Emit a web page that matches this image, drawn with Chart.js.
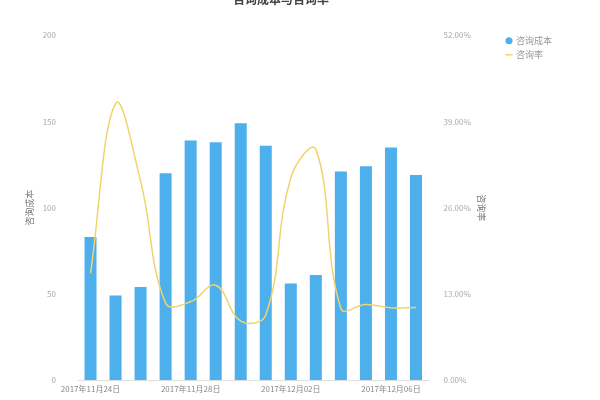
<!DOCTYPE html>
<html>
<head>
<meta charset="utf-8">
<script src="https://cdn.jsdelivr.net/npm/chart.js@4.4.1/dist/chart.umd.min.js"></script>
<style>
  html, body { margin: 0; padding: 0; background: #fff; }
  #wrap { width: 600px; height: 400px; position: relative; }
</style>
</head>
<body>
<div id="wrap"><canvas id="costChart"></canvas></div>
<script>
// categories and series
const dates = ['2017年11月24日', '2017年11月25日', '2017年11月26日', '2017年11月27日',
  '2017年11月28日', '2017年11月29日', '2017年11月30日', '2017年12月01日',
  '2017年12月02日', '2017年12月03日', '2017年12月04日', '2017年12月05日',
  '2017年12月06日', '2017年12月07日'];
const costValues = [83, 49, 54, 120, 139, 138, 149, 136, 56, 61, 121, 124, 135, 119];
const rateValues = [16.1, 41.7, 30, 11.6, 11.8, 14.3, 8.9, 9.8, 30.5, 34.8, 10.8, 11.4, 10.9, 10.95];
const costTicks = [0, 50, 100, 150, 200];
const rateTicks = [0, 13, 26, 39, 52];

const font = "'Noto Sans CJK SC', 'Noto Sans', sans-serif";

// keep a side axis at a fixed width, and stop its big tick padding from eating the bottom margin
function fixSide(width) {
  return axis => {
    axis.width = width;
    axis.paddingTop = 5;
    axis.paddingBottom = 5;
  };
}

const ctx = document.getElementById('costChart').getContext('2d');
const costChart = new Chart(ctx, {
  type: 'bar',
  data: {
    labels: dates,
    datasets: [{
      type: 'bar',
      label: '咨询成本',
      data: costValues,
      yAxisID: 'y',
      backgroundColor: '#4db0ec',
      barPercentage: 0.48,
      categoryPercentage: 1,
      pointStyle: 'circle',
      order: 2
    }, {
      type: 'line',
      label: '咨询率',
      data: rateValues,
      yAxisID: 'y1',
      borderColor: '#f2d36b',
      backgroundColor: '#f2d36b',
      borderWidth: 1.5,
      pointRadius: 0,
      tension: 0.4,
      pointStyle: 'line',
      order: 1
    }]
  },
  options: {
    responsive: true,
    maintainAspectRatio: false,
    animation: false,
    layout: { padding: { left: 0, right: 38, top: 0, bottom: 0 } },
    plugins: {
      title: {
        display: true,
        text: '咨询成本与咨询率',
        color: '#444',
        font: { family: font, size: 12, weight: 'bold' },
        padding: { top: -8, bottom: 29 }
      },
      legend: {
        position: 'right',
        align: 'start',
        title: { display: true, text: '', font: { size: 1 }, padding: { top: 30, bottom: 0 } },
        labels: {
          usePointStyle: true,
          boxWidth: 5,
          boxHeight: 5,
          padding: 5,
          color: '#999',
          font: { family: font, size: 9 },
          sort: (a, b) => a.datasetIndex - b.datasetIndex
        }
      },
      tooltip: { enabled: false }
    },
    scales: {
      x: {
        grid: { display: false, drawTicks: false },
        border: { display: true, color: '#ddd' },
        ticks: {
          autoSkip: false,
          maxRotation: 0,
          padding: 4,
          color: '#888',
          font: { family: font, size: 8 },
          callback: function (value, index) {
            return index % 4 === 0 ? this.getLabelForValue(value) : '';
          }
        },
        afterFit: axis => { axis.height = 20; }
      },
      y: {
        position: 'left',
        min: 0,
        max: 200,
        afterBuildTicks: axis => { axis.ticks = costTicks.map(v => ({ value: v })); },
        grid: { display: false, drawTicks: false },
        border: { display: false },
        ticks: { padding: 22, color: '#aaa', font: { family: font, size: 8 } },
        title: {
          display: true,
          text: '咨询成本',
          color: '#777',
          font: { family: font, size: 9 },
          padding: { top: 24, bottom: 0 }
        },
        afterFit: fixSide(78)
      },
      y1: {
        position: 'right',
        min: 0,
        max: 52,
        afterBuildTicks: axis => { axis.ticks = rateTicks.map(v => ({ value: v })); },
        grid: { display: false, drawTicks: false },
        border: { display: false },
        ticks: {
          padding: 15,
          color: '#aaa',
          font: { family: font, size: 8 },
          callback: v => v.toFixed(2) + '%'
        },
        title: {
          display: true,
          text: '咨询率',
          color: '#777',
          font: { family: font, size: 9 },
          padding: { top: 15, bottom: 0 }
        },
        afterFit: fixSide(73)
      }
    }
  }
});
</script>
</body>
</html>
